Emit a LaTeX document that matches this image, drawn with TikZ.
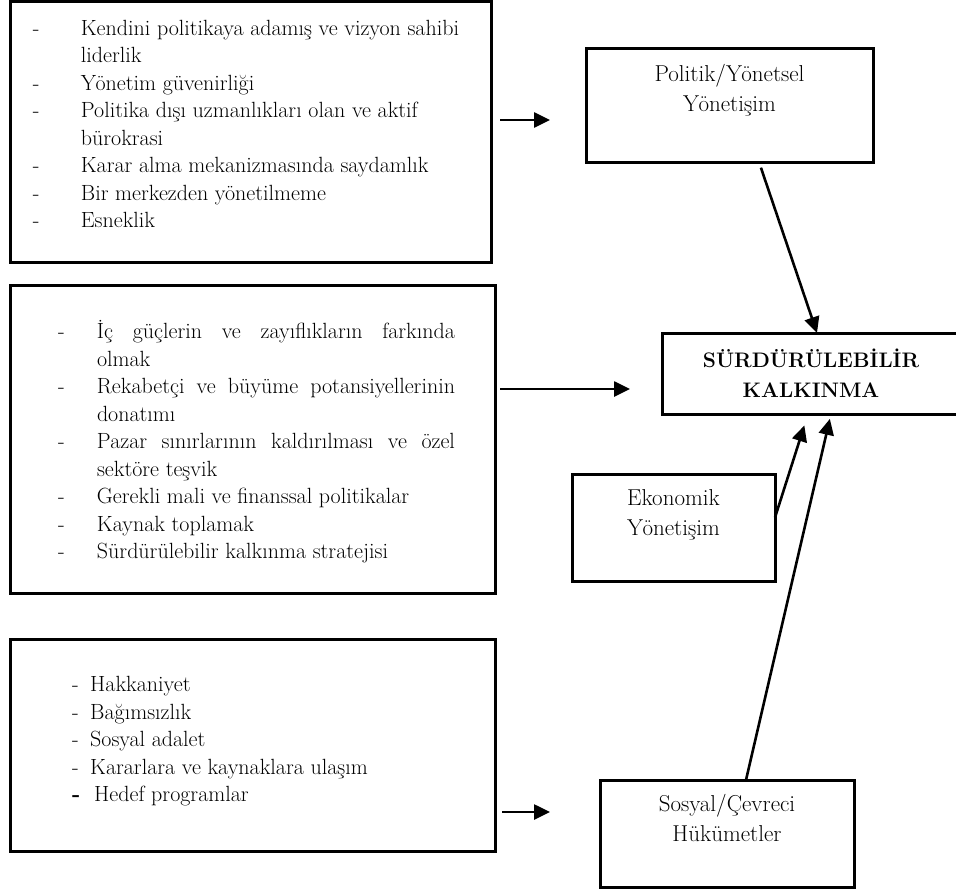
\documentclass[tikz,border=0pt]{standalone}
\usepackage{tikz}
\usetikzlibrary{arrows.meta, shapes, positioning, calc}

\begin{document}
\begin{tikzpicture}[
        x=1pt, y=-1pt,
        box/.style={rectangle, draw, line width=3pt, inner sep=0pt, outer sep=0pt, font=\fontsize{22}{27.5}\selectfont},
        gbox/.style={box, align=center, font=\fontsize{23}{30}\selectfont},
        arrow/.style={line width=2.6pt, -{Triangle[length=16pt, width=15pt]}}
    ]
        \useasboundingbox (0,0) rectangle (956,891);

        \node (pol) [box, minimum width=481pt, minimum height=260pt] at (250.5,132) {\begin{tabular}{@{}p{48pt}@{}l@{\hspace{9pt}}}
            -& Kendini politikaya adamış ve vizyon sahibi\\
             & liderlik\\
            -& Yönetim güvenirliği\\
            -& Politika dışı uzmanlıkları olan ve aktif\\
             & bürokrasi\\
            -& Karar alma mekanizmasında saydamlık\\
            -& Bir merkezden yönetilmeme\\
            -& Esneklik\\[12pt]
        \end{tabular}};
        \node (eko) [box, minimum width=485pt, minimum height=308pt] at (252.5,439) {\begin{tabular}{@{\hspace{8pt}}p{39pt}@{}l@{}}
            \noalign{\vskip 8pt}
            -& \makebox[358pt][s]{İç güçlerin ve zayıflıkların farkında}\\
             & olmak\\
            -& \makebox[358pt][s]{Rekabetçi ve büyüme potansiyellerinin}\\
             & donatımı\\
            -& \makebox[358pt][s]{Pazar sınırlarının kaldırılması ve özel}\\
             & sektöre teşvik\\
            -& Gerekli mali ve finanssal politikalar\\
            -& Kaynak toplamak\\
            -& Sürdürülebilir kalkınma stratejisi
        \end{tabular}};
        \node (sos) [box, minimum width=485pt, minimum height=212pt] at (252.5,745) {\begin{tabular}{@{}p{18pt}@{}l@{\hspace{65pt}}}
            -& Hakkaniyet\\
            -& Bağımsızlık\\
            -& Sosyal adalet\\
            -& Kararlara ve kaynaklara ulaşım\\
            \textbf{-}& \hspace{4pt}Hedef programlar\\[8pt]
        \end{tabular}};

        \node (polg) [gbox, minimum width=287pt, minimum height=113pt] at (729.5,105.5) {\begin{tabular}{c}Politik/Yönetsel\\Yönetişim\\[31pt]\end{tabular}};
        \node (ekog) [gbox, minimum width=203pt, minimum height=107pt] at (673.5,527.5) {\begin{tabular}{c}Ekonomik\\Yönetişim\\[27pt]\end{tabular}};
        \node (sosg) [gbox, minimum width=254pt, minimum height=107pt] at (727,833.5) {\begin{tabular}{c}Sosyal/Çevreci\\Hükümetler\\[27pt]\end{tabular}};
        \node (sk) [gbox, minimum width=298pt, minimum height=81pt, font=\fontsize{21}{30}\selectfont\bfseries] at (811,373.5) {SÜRDÜRÜLEBİLİR\\KALKINMA};

        \draw [arrow, shorten <=9pt, shorten >=36pt] ([yshift=12pt]pol.east) -- ([yshift=12pt]pol.east -| polg.west);
        \draw [arrow, shorten <=5pt, shorten >=32pt] ([yshift=50pt]eko.east) -- ([yshift=50pt]eko.east -| sk.west);
        \draw [arrow, shorten <=7pt, shorten >=50pt] ([yshift=-67pt]sos.east) -- ([yshift=-67pt]sos.east -| sosg.west);

        \draw [arrow, shorten <=6pt] ([xshift=29.5pt]polg.south) -- ([xshift=6pt]sk.north);
        \draw [arrow, shorten >=12pt] ([yshift=10pt]ekog.east) -- ([xshift=-3pt]sk.south);
        \draw [arrow, shorten >=5pt] ([xshift=19pt]sosg.north) -- ([xshift=20pt]sk.south);
    \end{tikzpicture}
\end{document}
